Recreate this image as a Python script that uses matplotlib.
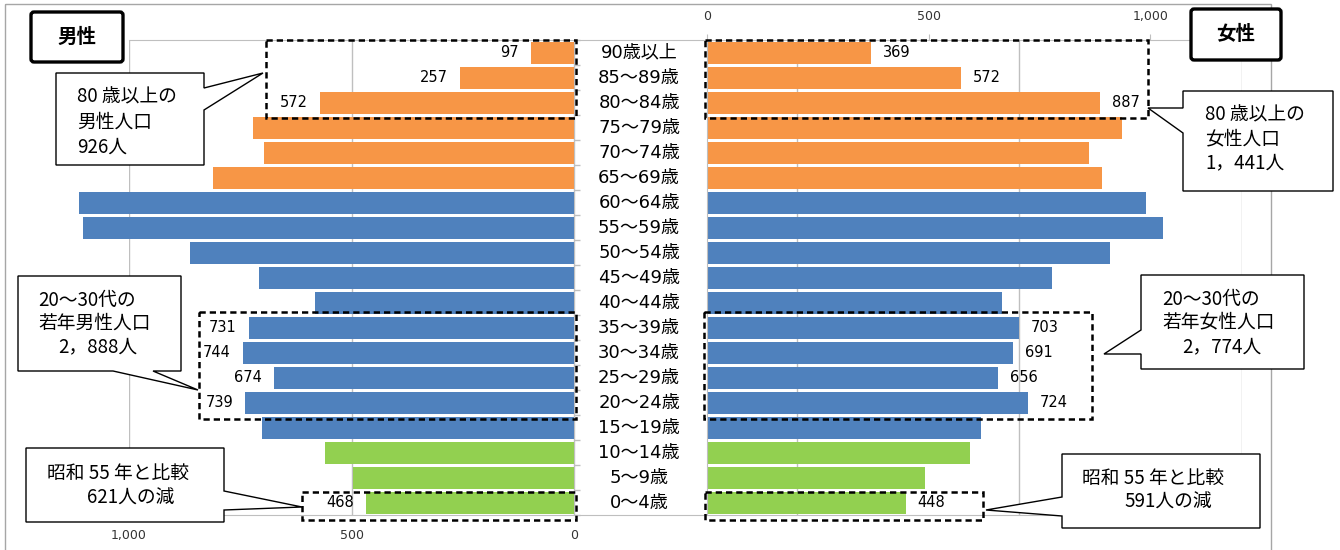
import matplotlib
matplotlib.use('Agg')
import matplotlib.pyplot as plt
import matplotlib.patches as patches
from matplotlib.ticker import FuncFormatter
from matplotlib.transforms import blended_transform_factory
import numpy as np

plt.rcParams['font.family'] = ['DejaVu Sans', 'Noto Sans CJK JP']
JP = ['Noto Sans CJK JP', 'DejaVu Sans']

# 5歳階級別人口（男女）
ages = ['90歳以上', '85〜89歳', '80〜84歳', '75〜79歳', '70〜74歳', '65〜69歳',
        '60〜64歳', '55〜59歳', '50〜54歳', '45〜49歳', '40〜44歳', '35〜39歳',
        '30〜34歳', '25〜29歳', '20〜24歳', '15〜19歳', '10〜14歳', '5〜9歳', '0〜4歳']
male = [97, 257, 572, 721, 697, 811, 1112, 1103, 863, 708, 582,
        731, 744, 674, 739, 701, 560, 497, 468]
female = [369, 572, 887, 935, 862, 892, 991, 1029, 910, 779, 666,
          703, 691, 656, 724, 618, 594, 492, 448]
labeled = [0, 1, 2, 11, 12, 13, 14, 18]

ORANGE, BLUE, GREEN = '#F79646', '#4F81BD', '#92D050'
colors = [ORANGE] * 6 + [BLUE] * 10 + [GREEN] * 3
GRID = '#BFBFBF'

W, H = 1340, 550
fig = plt.figure(figsize=(W / 100, H / 100), dpi=100)


def frect(x0, y0, x1, y1):
    return [x0 / W, 1 - y1 / H, (x1 - x0) / W, (y1 - y0) / H]


y = np.arange(len(ages))
fmt = FuncFormatter(lambda v, p: f'{v:,.0f}' if v >= 0 else '')

# 男性（左向き）
axL = fig.add_axes(frect(129, 40, 1242, 515))
axL.barh(y, male, height=0.88, color=colors, clip_on=False, zorder=2)
axL.set_xlim(1000, -1500)
axL.set_ylim(len(ages) - 0.5, -0.5)
axL.set_xticks([1000, 500, 0, -500, -1000, -1500])
axL.xaxis.set_major_formatter(fmt)
axL.tick_params(axis='x', length=0, pad=10, labelsize=9, labelcolor='#333333')
axL.set_yticks([])
axL.grid(axis='x', color=GRID, lw=1)
axL.set_axisbelow(True)
for s in ['left', 'right']:
    axL.spines[s].set_visible(False)
for s in ['top', 'bottom']:
    axL.spines[s].set_color(GRID)
axL.hlines(np.arange(-0.5, len(ages)), 0, -12, color=GRID, lw=1, clip_on=False)

for i in labeled:
    axL.annotate(f'{male[i]}', xy=(male[i], i), xytext=(-12, 0),
                 textcoords='offset pixels', ha='right', va='center', fontsize=10.5)

# 女性（右向き）
axR = fig.add_axes(frect(707, 40, 1239, 515))
axR.patch.set_visible(False)
axR.barh(y, female, height=0.88, color=colors, zorder=2)
axR.set_xlim(0, 1200)
axR.set_ylim(len(ages) - 0.5, -0.5)
axR.xaxis.tick_top()
axR.set_xticks([0, 500, 1000])
axR.xaxis.set_major_formatter(fmt)
axR.tick_params(axis='x', length=4, pad=8, labelsize=9, color=GRID, labelcolor='#333333')
axR.set_yticks([])
for s in ['top', 'right', 'bottom']:
    axR.spines[s].set_visible(False)
axR.spines['left'].set_color(GRID)

for i in labeled:
    axR.annotate(f'{female[i]}', xy=(female[i], i), xytext=(12, 0),
                 textcoords='offset pixels', ha='left', va='center', fontsize=10.5)

# 年齢階級ラベル（中央）
trans = blended_transform_factory(fig.transFigure, axR.transData)
for i, a in enumerate(ages):
    axR.text(639 / W, i, a, transform=trans, ha='center', va='center', fontsize=13)

# 注記レイヤー（ピクセル座標）
ov = fig.add_axes([0, 0, 1, 1], zorder=10)
ov.set_xlim(0, W)
ov.set_ylim(H, 0)
ov.axis('off')
ov.patch.set_visible(False)

ov.add_patch(patches.Rectangle((5, 4), 1266, 600, fill=False, ec='#A6A6A6', lw=1, zorder=1))


def title_box(x0, y0, x1, y1, label):
    ov.add_patch(patches.FancyBboxPatch((x0, y0), x1 - x0, y1 - y0,
                                        boxstyle='round,pad=0,rounding_size=3',
                                        fc='white', ec='black', lw=2.4, zorder=3))
    ov.text((x0 + x1) / 2, (y0 + y1) / 2, label, ha='center', va='center',
            fontsize=14, fontweight='bold', family=JP, zorder=4)


def dashed_box(x0, y0, x1, y1):
    ov.add_patch(patches.Rectangle((x0, y0), x1 - x0, y1 - y0, fill=False, ec='black',
                                   lw=1.8, ls=(0, (2.5, 1.6)), zorder=3))


def callout(x0, y0, x1, y1, side, b0, b1, tip, lines):
    if side == 'right':
        pts = [(x0, y0), (x1, y0), (x1, b0), tip, (x1, b1), (x1, y1), (x0, y1)]
    elif side == 'left':
        pts = [(x0, y0), (x1, y0), (x1, y1), (x0, y1), (x0, b1), tip, (x0, b0)]
    else:
        pts = [(x0, y0), (x1, y0), (x1, y1), (b1, y1), tip, (b0, y1), (x0, y1)]
    ov.add_patch(patches.Polygon(pts, closed=True, fc='white', ec='black', lw=1, zorder=5))
    for tx, ty, s in lines:
        ov.text(tx, ty, s, ha='left', va='center', fontsize=13.5, family=JP, zorder=6)


title_box(31, 12, 123, 62, '男性')
title_box(1191, 9, 1281, 60, '女性')

dashed_box(266, 40, 576, 118)
dashed_box(705, 40, 1148, 118)
dashed_box(199, 312, 576, 419)
dashed_box(704, 312, 1092, 419)
dashed_box(302, 492, 576, 520)
dashed_box(705, 492, 983, 520)

callout(56, 73, 204, 165, 'right', 88, 110, (263, 73),
        [(77, 97, '80 歳以上の'), (77, 122, '男性人口'), (77, 147, '926人')])
callout(1183, 91, 1333, 191, 'left', 108, 133, (1148, 108),
        [(1205, 115, '80 歳以上の'), (1205, 139, '女性人口'), (1205, 163, '1，441人')])
callout(18, 276, 181, 371, 'bottom', 113, 153, (198, 390),
        [(38, 300, '20〜30代の'), (38, 323, '若年男性人口'), (58, 347, '2，888人')])
callout(1141, 275, 1304, 369, 'left', 330, 354, (1104, 354),
        [(1162, 299, '20〜30代の'), (1162, 322, '若年女性人口'), (1182, 347, '2，774人')])
callout(26, 448, 224, 522, 'right', 491, 510, (302, 507),
        [(47, 473, '昭和 55 年と比較'), (87, 498, '621人の減')])
callout(1062, 454, 1260, 528, 'left', 497, 516, (986, 510),
        [(1082, 478, '昭和 55 年と比較'), (1124, 502, '591人の減')])

fig.savefig('out.png', dpi=100, facecolor='white')
